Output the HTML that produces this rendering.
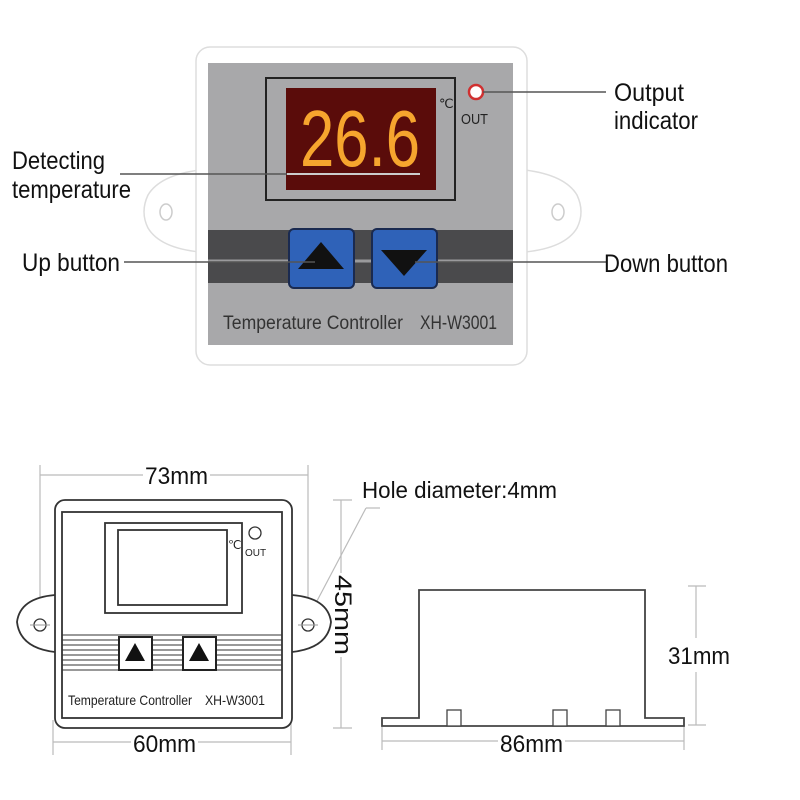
<!DOCTYPE html>
<html><head><style>
html,body{margin:0;padding:0;background:#fff;}
svg{display:block;}
text{font-family:"Liberation Sans",Arial,sans-serif;}
</style></head><body>
<svg width="800" height="800" viewBox="0 0 800 800" xmlns="http://www.w3.org/2000/svg">
<!-- Top device -->
<path d="M200,170 Q160,175 148,195 Q140,212 148,228 Q160,248 200,252 Z" fill="#fff" stroke="#ddd" stroke-width="1.5"/>
<path d="M525,170 Q565,175 577,195 Q585,212 577,228 Q565,248 525,252 Z" fill="#fff" stroke="#ddd" stroke-width="1.5"/>
<ellipse cx="166" cy="212" rx="6" ry="8" fill="#fff" stroke="#ccc" stroke-width="1.5"/>
<ellipse cx="558" cy="212" rx="6" ry="8" fill="#fff" stroke="#ccc" stroke-width="1.5"/>
<rect x="196" y="47" width="331" height="318" rx="14" fill="#fff" stroke="#ddd" stroke-width="1.5"/>
<rect x="208" y="63" width="305" height="282" fill="#a8a8aa"/>
<rect x="266" y="78" width="189" height="122" fill="none" stroke="#222" stroke-width="2"/>
<rect x="286" y="88" width="150" height="102" fill="#5a0c0a"/>
<text x="300" y="166" font-size="80" fill="#f6a52e" textLength="120" lengthAdjust="spacingAndGlyphs">26.6</text>
<text x="439" y="108" font-size="13" fill="#222">℃</text>
<circle cx="476" cy="92" r="7" fill="#fff" stroke="#d03030" stroke-width="2.5"/>
<text x="461" y="124" font-size="15" fill="#222" textLength="27" lengthAdjust="spacingAndGlyphs">OUT</text>
<rect x="208" y="230" width="305" height="53" fill="#4a4a4c"/>
<line x1="208" y1="261" x2="513" y2="261" stroke="#9a9a9c" stroke-width="3"/>
<rect x="289" y="229" width="65" height="59" rx="5" fill="#2f62b8" stroke="#1a2a50" stroke-width="2"/>
<rect x="372" y="229" width="65" height="59" rx="5" fill="#2f62b8" stroke="#1a2a50" stroke-width="2"/>
<polygon points="321,242 344,269 298,269" fill="#111"/>
<polygon points="381,250 427,250 404,276" fill="#111"/>
<text x="223" y="329" font-size="19" fill="#333" textLength="180" lengthAdjust="spacingAndGlyphs">Temperature Controller</text>
<text x="420" y="329" font-size="19" fill="#333" textLength="77" lengthAdjust="spacingAndGlyphs">XH-W3001</text>
<!-- leaders -->
<line x1="120" y1="174" x2="420" y2="174" stroke="#555" stroke-width="1.5"/>
<line x1="287" y1="174" x2="420" y2="174" stroke="#ccc" stroke-width="2"/>
<line x1="483" y1="92" x2="606" y2="92" stroke="#555" stroke-width="1.5"/>
<line x1="124" y1="262" x2="315" y2="262" stroke="#555" stroke-width="1.5"/>
<line x1="415" y1="262" x2="606" y2="262" stroke="#555" stroke-width="1.5"/>
<text x="614" y="101" font-size="25" fill="#111" textLength="70" lengthAdjust="spacingAndGlyphs">Output</text>
<text x="614" y="129" font-size="25" fill="#111" textLength="84" lengthAdjust="spacingAndGlyphs">indicator</text>
<text x="12" y="169" font-size="25" fill="#111" textLength="93" lengthAdjust="spacingAndGlyphs">Detecting</text>
<text x="12" y="198" font-size="25" fill="#111" textLength="119" lengthAdjust="spacingAndGlyphs">temperature</text>
<text x="22" y="271" font-size="25" fill="#111" textLength="98" lengthAdjust="spacingAndGlyphs">Up button</text>
<text x="604" y="272" font-size="25" fill="#111" textLength="124" lengthAdjust="spacingAndGlyphs">Down button</text>

<!-- Bottom drawing -->
<g stroke="#bbb" stroke-width="1.2" fill="none">
<line x1="40" y1="465" x2="40" y2="640"/>
<line x1="308" y1="465" x2="308" y2="640"/>
<line x1="40" y1="475" x2="143" y2="475"/><line x1="210" y1="475" x2="308" y2="475"/>
<line x1="53" y1="720" x2="53" y2="755"/><line x1="291" y1="720" x2="291" y2="755"/>
<line x1="53" y1="742" x2="131" y2="742"/><line x1="198" y1="742" x2="291" y2="742"/>
<line x1="333" y1="500" x2="352" y2="500"/><line x1="333" y1="728" x2="352" y2="728"/>
<line x1="341" y1="500" x2="341" y2="573"/><line x1="341" y1="657" x2="341" y2="728"/>
<line x1="308" y1="618" x2="366" y2="508"/><line x1="366" y1="508" x2="380" y2="508"/>
<line x1="382" y1="720" x2="382" y2="750"/><line x1="684" y1="720" x2="684" y2="750"/>
<line x1="382" y1="741" x2="498" y2="741"/><line x1="565" y1="741" x2="684" y2="741"/>
<line x1="688" y1="586" x2="706" y2="586"/><line x1="688" y1="725" x2="706" y2="725"/>
<line x1="696" y1="586" x2="696" y2="638"/><line x1="696" y1="672" x2="696" y2="725"/>
</g>
<text x="145" y="484" font-size="24" fill="#111" textLength="63" lengthAdjust="spacingAndGlyphs">73mm</text>
<text x="133" y="752" font-size="24" fill="#111" textLength="63" lengthAdjust="spacingAndGlyphs">60mm</text>
<text x="500" y="752" font-size="24" fill="#111" textLength="63" lengthAdjust="spacingAndGlyphs">86mm</text>
<text x="668" y="664" font-size="24" fill="#111" textLength="62" lengthAdjust="spacingAndGlyphs">31mm</text>
<text x="362" y="498" font-size="23" fill="#111" textLength="195" lengthAdjust="spacingAndGlyphs">Hole diameter:4mm</text>
<text transform="translate(335,575) rotate(90)" font-size="24" fill="#111" textLength="80" lengthAdjust="spacingAndGlyphs">45mm</text>

<g stroke="#333" stroke-width="1.8" fill="#fff">
<path d="M55,595 Q20,598 17,622 Q20,648 55,652"/>
<path d="M292,595 Q328,598 331,622 Q328,648 292,652"/>
<rect x="55" y="500" width="237" height="228" rx="10"/>
<rect x="62" y="512" width="220" height="206"/>
<rect x="105" y="523" width="137" height="90"/>
<rect x="118" y="530" width="109" height="75"/>
<circle cx="255" cy="533" r="6" stroke-width="1.3"/>
</g>
<circle cx="40" cy="625" r="6" fill="none" stroke="#333" stroke-width="1.3"/>
<circle cx="308" cy="625" r="6" fill="none" stroke="#333" stroke-width="1.3"/>
<line x1="30" y1="625" x2="50" y2="625" stroke="#999"/><line x1="298" y1="625" x2="318" y2="625" stroke="#999"/>
<text x="228" y="549" font-size="12" fill="#222">℃</text>
<text x="245" y="556" font-size="10" fill="#222">OUT</text>
<g stroke="#333" stroke-width="1">
<line x1="62" y1="635" x2="282" y2="635"/><line x1="62" y1="640" x2="282" y2="640"/>
<line x1="62" y1="645" x2="282" y2="645"/><line x1="62" y1="650" x2="282" y2="650"/>
<line x1="62" y1="655" x2="282" y2="655"/><line x1="62" y1="660" x2="282" y2="660"/>
<line x1="62" y1="665" x2="282" y2="665"/><line x1="62" y1="670" x2="282" y2="670"/>
</g>
<rect x="119" y="637" width="33" height="33" fill="#fff" stroke="#222" stroke-width="2"/>
<rect x="183" y="637" width="33" height="33" fill="#fff" stroke="#222" stroke-width="2"/>
<polygon points="135,643 145,661 125,661" fill="#111"/>
<polygon points="199,643 209,661 189,661" fill="#111"/>
<text x="68" y="705" font-size="14" fill="#222" textLength="124" lengthAdjust="spacingAndGlyphs">Temperature Controller</text>
<text x="205" y="705" font-size="14" fill="#222" textLength="60" lengthAdjust="spacingAndGlyphs">XH-W3001</text>

<!-- side view -->
<g stroke="#444" stroke-width="1.8" fill="#fff">
<path d="M382,718 L419,718 L419,590 L645,590 L645,718 L684,718 L684,726 L382,726 Z"/>
<rect x="447" y="710" width="14" height="16" stroke-width="1.3"/>
<rect x="553" y="710" width="14" height="16" stroke-width="1.3"/>
<rect x="606" y="710" width="14" height="16" stroke-width="1.3"/>
</g>
</svg>
</body></html>
